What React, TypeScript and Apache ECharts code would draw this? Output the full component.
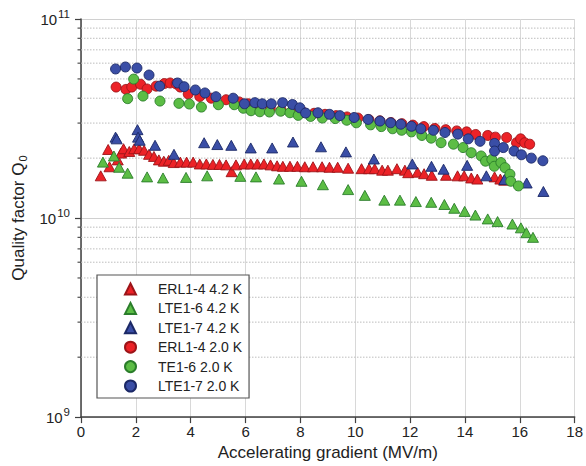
import React, { useEffect, useRef } from "react";
import * as echarts from "echarts";

// ---- data: [accelerating gradient (MV/m), quality factor Q0] ----
const erl14_42K: [number, number][] = [
  [0.72, 1.63e10], [0.99, 2.21e10], [1.04, 1.81e10], [1.34, 1.96e10], [1.46, 2.12e10],
  [1.55, 2.23e10], [1.76, 2.16e10], [1.94, 2.23e10], [2.12, 2.23e10], [2.3, 2.19e10],
  [2.48, 2.09e10], [2.66, 2.04e10], [2.84, 1.96e10], [3.02, 1.93e10], [3.2, 1.95e10],
  [3.38, 1.9e10], [3.62, 1.91e10], [3.85, 1.91e10], [4.09, 1.91e10], [4.33, 1.87e10],
  [4.57, 1.87e10], [4.81, 1.86e10], [5.05, 1.86e10], [5.29, 1.85e10], [5.49, 1.71e10],
  [5.65, 1.85e10], [5.95, 1.87e10], [6.19, 1.87e10], [6.43, 1.87e10], [6.67, 1.87e10],
  [6.91, 1.85e10], [7.15, 1.83e10], [7.36, 1.82e10], [7.62, 1.82e10], [7.89, 1.82e10],
  [8.16, 1.81e10], [8.46, 1.81e10], [8.79, 1.81e10], [9.06, 1.8e10], [9.36, 1.8e10],
  [9.74, 1.78e10], [10.23, 1.77e10], [10.5, 1.77e10], [10.71, 1.77e10], [10.98, 1.74e10],
  [11.19, 1.74e10], [11.52, 1.77e10], [11.81, 1.74e10], [11.93, 1.69e10], [12.27, 1.7e10],
  [12.51, 1.67e10], [12.79, 1.64e10], [13.31, 1.64e10], [13.73, 1.63e10], [13.97, 1.63e10],
  [14.23, 1.59e10], [14.45, 1.57e10], [15.08, 1.61e10], [15.29, 1.57e10], [15.43, 1.55e10],
];

const lte16_42K: [number, number][] = [
  [0.8, 1.91e10], [1.2, 2.05e10], [1.39, 1.8e10], [1.7, 1.68e10], [2.41, 1.61e10],
  [2.99, 1.59e10], [3.83, 1.6e10], [4.6, 1.63e10], [5.81, 1.62e10], [6.38, 1.61e10],
  [7.22, 1.57e10], [8.04, 1.53e10], [8.82, 1.47e10], [9.74, 1.39e10], [10.35, 1.3e10],
  [11.06, 1.23e10], [11.63, 1.23e10], [12.21, 1.21e10], [12.77, 1.2e10], [13.25, 1.17e10],
  [13.61, 1.12e10], [13.99, 1.08e10], [14.38, 1.035e10], [14.83, 9.9e9], [15.19, 9.6e9],
  [15.73, 9.33e9], [16.04, 8.93e9], [16.24, 8.44e9], [16.48, 8.0e9],
];

const lte17_42K: [number, number][] = [
  [1.26, 2.55e10], [1.3, 2.5e10], [2.06, 2.78e10], [2.08, 2.55e10], [2.14, 2.46e10],
  [2.7, 2.32e10], [3.39, 2.09e10], [4.49, 2.39e10], [4.97, 2.34e10], [5.48, 2.32e10],
  [6.19, 2.25e10], [6.97, 2.25e10], [7.73, 2.41e10], [8.75, 2.28e10], [9.66, 2.15e10],
  [10.68, 1.98e10], [12.08, 1.87e10], [12.78, 1.82e10], [13.22, 1.76e10], [14.08, 1.84e10],
  [14.78, 1.63e10], [15.44, 1.56e10], [16.25, 1.5e10], [16.86, 1.36e10],
];

const erl14_20K: [number, number][] = [
  [1.28, 4.55e10], [1.64, 4.43e10], [1.85, 4.55e10], [2.17, 4.7e10], [2.41, 4.45e10],
  [2.74, 4.6e10], [3.04, 4.74e10], [3.25, 4.77e10], [3.47, 4.72e10], [3.62, 4.55e10],
  [3.91, 4.2e10], [4.33, 4.08e10], [4.75, 4.0e10], [5.29, 3.93e10], [5.77, 3.83e10],
  [6.1, 3.75e10], [6.5, 3.65e10], [6.9, 3.56e10], [7.3, 3.48e10], [7.7, 3.45e10],
  [8.1, 3.4e10], [8.5, 3.36e10], [8.9, 3.32e10], [9.3, 3.27e10], [9.7, 3.22e10],
  [10.1, 3.18e10], [10.5, 3.12e10], [10.9, 3.08e10], [11.3, 3.02e10], [11.7, 2.98e10],
  [12.1, 2.93e10], [12.5, 2.88e10], [12.9, 2.82e10], [13.3, 2.78e10], [13.7, 2.74e10],
  [14.06, 2.71e10], [14.39, 2.63e10], [14.83, 2.6e10], [15.11, 2.55e10], [15.52, 2.54e10],
  [15.88, 2.39e10], [16.03, 2.5e10], [16.18, 2.39e10], [16.36, 2.35e10],
];

const te16_20K: [number, number][] = [
  [1.7, 3.98e10], [1.92, 4.99e10], [2.26, 4.1e10], [2.88, 3.87e10], [3.57, 3.77e10],
  [3.95, 3.74e10], [4.39, 3.61e10], [5.01, 3.71e10], [5.59, 3.71e10], [5.92, 3.56e10],
  [6.2, 3.46e10], [6.52, 3.42e10], [6.87, 3.41e10], [7.28, 3.44e10], [7.62, 3.38e10],
  [7.92, 3.28e10], [8.37, 3.24e10], [8.8, 3.18e10], [9.27, 3.16e10], [9.69, 3.1e10],
  [10.04, 3.01e10], [10.56, 2.94e10], [10.95, 2.88e10], [11.36, 2.81e10], [11.69, 2.76e10],
  [12.05, 2.71e10], [12.43, 2.6e10], [12.77, 2.52e10], [13.13, 2.39e10], [13.58, 2.35e10],
  [13.93, 2.26e10], [14.23, 2.13e10], [14.59, 2.05e10], [14.75, 1.93e10], [14.98, 1.97e10],
  [15.07, 1.82e10], [15.31, 1.9e10], [15.46, 1.79e10], [15.64, 1.66e10], [15.67, 1.53e10],
  [15.95, 1.45e10],
];

const lte17_20K: [number, number][] = [
  [1.26, 5.61e10], [1.62, 5.74e10], [2.04, 5.67e10], [2.48, 5.23e10], [2.87, 4.6e10],
  [3.52, 4.77e10], [3.76, 4.57e10], [4.17, 4.4e10], [4.52, 4.25e10], [4.92, 4.07e10],
  [5.55, 4.0e10], [5.96, 3.75e10], [6.34, 3.8e10], [6.61, 3.75e10], [6.94, 3.75e10],
  [7.35, 3.8e10], [7.71, 3.72e10], [7.98, 3.58e10], [8.19, 3.37e10], [8.64, 3.38e10],
  [9.06, 3.32e10], [9.44, 3.27e10], [9.96, 3.2e10], [10.47, 3.13e10], [10.9, 3.07e10],
  [11.29, 3.01e10], [11.66, 2.96e10], [12.05, 2.89e10], [12.39, 2.81e10], [12.85, 2.76e10],
  [13.27, 2.69e10], [13.74, 2.64e10], [14.12, 2.5e10], [14.55, 2.43e10], [15.08, 2.37e10],
  [15.08, 2.17e10], [15.4, 2.26e10], [15.79, 2.17e10], [16.06, 2.08e10], [16.42, 2.0e10],
  [16.84, 1.94e10],
];

const seriesNames = [
  "ERL1-4 4.2 K",
  "LTE1-6 4.2 K",
  "LTE1-7 4.2 K",
  "ERL1-4 2.0 K",
  "TE1-6 2.0 K",
  "LTE1-7 2.0 K",
];

const xMin = 0;
const xMax = 18;
const xInterval = 2;
const yMin = 1e9;
const yMax = 1e11;
const minorTickValues = [
  2e9, 3e9, 4e9, 5e9, 6e9, 7e9, 8e9, 9e9,
  2e10, 3e10, 4e10, 5e10, 6e10, 7e10, 8e10, 9e10,
];

const RED = "#ec2227";
const RED_B = "#9c1418";
const GREEN = "#5cbd45";
const GREEN_B = "#2a7d2a";
const BLUE = "#3a4ea6";
const BLUE_B = "#1b2866";

const FONT = "'Liberation Sans', Arial, Helvetica, sans-serif";

function scatter(name: string, data: [number, number][], symbol: string, fill: string, stroke: string) {
  return {
    name,
    type: "scatter",
    data,
    symbol,
    symbolSize: symbol === "triangle" ? [11, 10] : 10,
    itemStyle: { color: fill, borderColor: stroke, borderWidth: 0.9, opacity: 1 },
    z: 3,
    emphasis: { disabled: true },
  };
}

export default function App() {
  const ref = useRef<HTMLDivElement>(null);
  useEffect(() => {
    if (!ref.current) return;
    const chart = echarts.init(ref.current, null, { renderer: "svg" });
    const axisColor = "#404040";
    const option: any = {
      animation: false,
      backgroundColor: "#ffffff",
      textStyle: { fontFamily: FONT },
      grid: { left: 81, right: 2, top: 19, bottom: 47 },
      legend: {
        orient: "vertical",
        left: 97,
        top: 275,
        padding: [7, 7, 5, 27],
        itemWidth: 11,
        itemHeight: 11,
        itemGap: 5.4,
        backgroundColor: "#ffffff",
        borderColor: "#555555",
        borderWidth: 1.2,
        borderRadius: 0,
        textStyle: {
          fontSize: 14,
          color: "#222",
          fontFamily: FONT,
          lineHeight: 14,
          padding: [0, 0, 0, 17],
        },
        data: [
          { name: seriesNames[0], icon: "triangle" },
          { name: seriesNames[1], icon: "triangle" },
          { name: seriesNames[2], icon: "triangle" },
          { name: seriesNames[3], icon: "circle" },
          { name: seriesNames[4], icon: "circle" },
          { name: seriesNames[5], icon: "circle" },
        ],
        selectedMode: false,
      },
      xAxis: {
        type: "value",
        min: xMin,
        max: xMax,
        interval: xInterval,
        name: "Accelerating gradient (MV/m)",
        nameLocation: "middle",
        nameGap: 26,
        nameTextStyle: { fontSize: 17, color: "#222", fontFamily: FONT },
        axisLine: { show: true, onZero: false, lineStyle: { color: axisColor, width: 1.5 } },
        axisTick: { show: true, length: 6, lineStyle: { color: axisColor, width: 1.2 } },
        axisLabel: { fontSize: 15, color: "#222", margin: 7, fontFamily: FONT },
        splitLine: { show: true, lineStyle: { color: "#d8d8d8", width: 1 } },
      },
      yAxis: {
        type: "log",
        logBase: 10,
        min: yMin,
        max: yMax,
        name: "Quality factor Q{sub|0}",
        nameLocation: "middle",
        nameGap: 53,
        nameTextStyle: {
          fontSize: 17,
          color: "#222",
          fontFamily: FONT,
          rich: { sub: { fontSize: 11, color: "#222", fontFamily: FONT, padding: [9, 0, 0, 1] } },
        },
        axisLine: { show: true, lineStyle: { color: axisColor, width: 1.5 } },
        axisTick: { show: true, length: 6, lineStyle: { color: axisColor, width: 1.2 } },
        axisLabel: {
          fontSize: 15,
          color: "#222",
          margin: 11,
          fontFamily: FONT,
          formatter: (v: number) => "10{sup|" + Math.round(Math.log10(v)) + "}",
          rich: { sup: { fontSize: 11.5, color: "#222", fontFamily: FONT, padding: [0, 0, 10, 1] } },
        },
        splitLine: { show: true, lineStyle: { color: "#d0d0d0", width: 1 } },
      },
      series: [
        {
          type: "custom",
          name: "minorGrid",
          silent: true,
          z: 1,
          data: minorTickValues.map((v) => [xMin, v]),
          encode: { x: 0, y: 1 },
          renderItem: (_params: any, api: any) => {
            const v = api.value(1);
            const p0 = api.coord([xMin, v]);
            const p1 = api.coord([xMax, v]);
            return {
              type: "group",
              children: [
                {
                  type: "line",
                  shape: { x1: p0[0], y1: p0[1], x2: p1[0], y2: p1[1] },
                  style: { stroke: "#bdbdbd", lineWidth: 1, lineDash: [1.5, 1.5] },
                },
                {
                  type: "line",
                  shape: { x1: p0[0] - 3.5, y1: p0[1], x2: p0[0], y2: p0[1] },
                  style: { stroke: axisColor, lineWidth: 1.1 },
                },
              ],
            };
          },
        },
        scatter(seriesNames[0], erl14_42K, "triangle", RED, RED_B),
        scatter(seriesNames[1], lte16_42K, "triangle", GREEN, GREEN_B),
        scatter(seriesNames[2], lte17_42K, "triangle", BLUE, BLUE_B),
        scatter(seriesNames[3], erl14_20K, "circle", RED, RED_B),
        scatter(seriesNames[4], te16_20K, "circle", GREEN, GREEN_B),
        scatter(seriesNames[5], lte17_20K, "circle", BLUE, BLUE_B),
      ],
    };
    chart.setOption(option);
    return () => chart.dispose();
  }, []);
  return (
    <div
      ref={ref}
      style={{ position: "fixed", left: 0, top: 0, width: 586, height: 466, background: "#fff" }}
    />
  );
}
